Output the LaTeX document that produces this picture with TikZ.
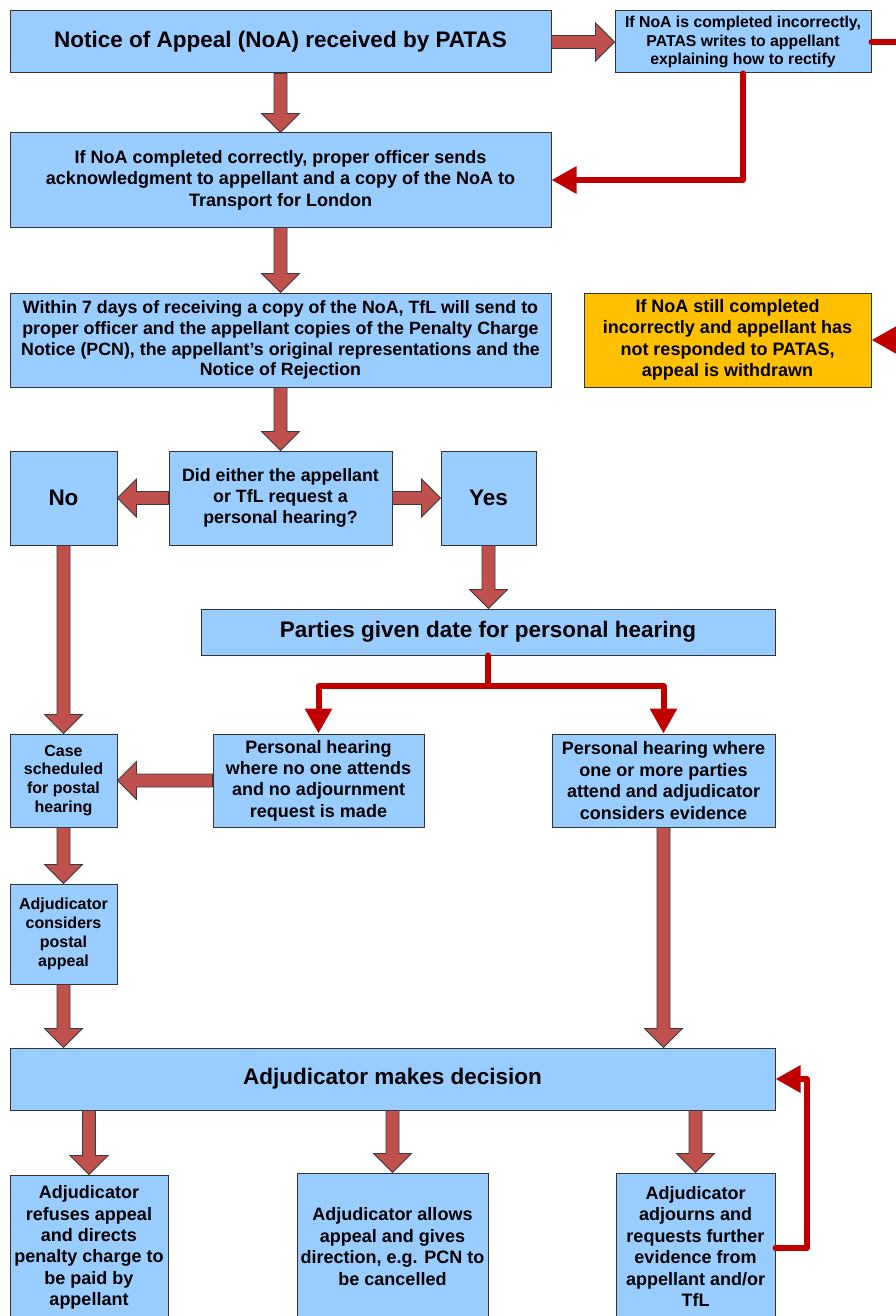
\documentclass[tikz,border=0pt]{standalone}
\usepackage{fontspec}
\setmainfont{Liberation Sans}
\usetikzlibrary{arrows.meta,calc}
\definecolor{boxfill}{HTML}{99CCFF}
\definecolor{boxline}{HTML}{333333}
\definecolor{brownarr}{HTML}{C0504D}
\definecolor{arrline}{HTML}{3A3A3A}
\definecolor{redline}{HTML}{C00000}
\definecolor{orangefill}{HTML}{FFC000}
\newcommand\blockarrow[2]{%
 \draw[blockarr] let \p1=(#1), \p2=(#2), \n1={atan2(\y2-\y1,\x2-\x1)}, \n2={veclen(\x2-\x1,\y2-\y1)-19pt} in
 (\p1) ++(\n1+90:6.5pt) -- ++(\n1:\n2) -- ++(\n1+90:12.5pt) -- (\p2) -- ++(\n1+225:26.87pt) -- ++(\n1+90:12.5pt) -- ++(\n1+180:\n2) -- cycle;}
\tikzset{
 box/.style={draw=boxline, fill=boxfill, line width=1pt, rectangle, inner sep=0pt, align=center, text=black},
 obox/.style={box, fill=orangefill},
 fbig/.style={font=\fontsize{22.5}{27}\selectfont\bfseries},
 fsmall/.style={font=\fontsize{15.8}{18.5}\selectfont\bfseries},
 fmid/.style={font=\fontsize{17.8}{20.8}\selectfont\bfseries},
 fmidb/.style={font=\fontsize{18}{21.4}\selectfont\bfseries},
 fnar/.style={font=\fontsize{16}{18.8}\selectfont\bfseries},
 blockarr/.style={fill=brownarr, draw=arrline, line width=0.8pt, line join=miter},
 redarr/.style={draw=redline, line width=6pt, line join=round, line cap=round, -{Triangle[length=25pt,width=26pt]}},
}
\begin{document}
\begin{tikzpicture}[x=1pt,y=-1pt]
\useasboundingbox (0,0) rectangle (896,1316);
\fill[white] (0,0) rectangle (896,1316);
\clip (0,0) rectangle (896,1316);
% nodes
\node[box, fbig, minimum width=541pt, minimum height=62pt] (n1) at (280.5,42) {Notice of Appeal (NoA) received by PATAS};
\node[box, fsmall, minimum width=256pt, minimum height=62pt] (n2) at (743,42) {If NoA is completed incorrectly,\\PATAS writes to appellant\\explaining how to rectify};
\node[box, fmidb, minimum width=541pt, minimum height=94pt] (n3) at (280.5,180) {If NoA completed correctly, proper officer sends\\acknowledgment to appellant and a copy of the NoA to\\Transport for London};
\node[box, fmid, minimum width=541pt, minimum height=94pt] (n4) at (280.5,340) {Within 7 days of receiving a copy of the NoA, TfL will send to\\proper officer and the appellant copies of the Penalty Charge\\Notice (PCN), the appellant’s original representations and the\\Notice of Rejection};
\node[obox, fmidb, minimum width=287pt, minimum height=94pt] (n5) at (727.5,340) {If NoA still completed\\incorrectly and appellant has\\not responded to PATAS,\\appeal is withdrawn};
\node[box, fbig, minimum width=107pt, minimum height=94pt] (no) at (63.5,498) {No};
\node[box, fmid, minimum width=223pt, minimum height=94pt] (dec) at (280.5,498) {Did either the appellant\\or TfL request a\\personal hearing?};
\node[box, fbig, minimum width=95pt, minimum height=94pt] (yes) at (488.5,498) {Yes};
\node[box, fbig, minimum width=574pt, minimum height=46pt] (parties) at (488,632) {Parties given date for personal hearing};
\node[box, fnar, minimum width=107pt, minimum height=93pt] (case) at (63.5,780.5) {Case\\scheduled\\for postal\\hearing};
\node[box, fmidb, minimum width=211pt, minimum height=93pt] (pno) at (318.5,780.5) {Personal hearing\\where no one attends\\and no adjournment\\request is made};
\node[box, fmidb, minimum width=223pt, minimum height=93pt] (pyes) at (663.5,780.5) {Personal hearing where\\one or more parties\\attend and adjudicator\\considers evidence};
\node[box, fnar, minimum width=107pt, minimum height=100pt] (post) at (63.5,934) {Adjudicator\\considers\\postal\\appeal};
\node[box, fbig, minimum width=765pt, minimum height=62pt] (decision) at (392.5,1079) {Adjudicator makes decision};
\node[box, fmidb, minimum width=158pt, minimum height=145pt] (refuse) at (89,1247.5) {Adjudicator\\refuses appeal\\and directs\\penalty charge to\\be paid by\\appellant};
\node[box, fmidb, minimum width=191pt, minimum height=147pt] (allow) at (392.5,1246.5) {Adjudicator allows\\appeal and gives\\direction, e.g. PCN to\\be cancelled};
\node[box, fmidb, minimum width=159pt, minimum height=147pt] (adjourn) at (695.5,1246.5) {Adjudicator\\adjourns and\\requests further\\evidence from\\appellant and/or\\TfL};
% block arrows
\blockarrow{n1.east |- n2.west}{n2.west}
\blockarrow{n1.south}{n3.north}
\blockarrow{n3.south}{n4.north}
\blockarrow{n4.south}{dec.north}
\blockarrow{dec.west}{no.east}
\blockarrow{dec.east}{yes.west}
\blockarrow{yes.south}{yes.south |- parties.north}
\blockarrow{no.south}{case.north}
\blockarrow{pno.west}{case.east}
\blockarrow{case.south}{post.north}
\blockarrow{post.south}{post.south |- decision.north}
\blockarrow{pyes.south}{pyes.south |- decision.north}
\blockarrow{refuse.north |- decision.south}{refuse.north}
\blockarrow{allow.north |- decision.south}{allow.north}
\blockarrow{adjourn.north |- decision.south}{adjourn.north}
% red connectors
\coordinate (rr) at (912,42);
\coordinate (split) at (488,686);
\coordinate (rb) at (807,1248);
\coordinate (rt) at (807,1079);
\draw[redarr] (n2.south) |- (n3.east);
\draw[redarr] (n2.east) -- (rr) |- (n5.east);
\draw[redarr] (parties.south) -- (split) -| (pno.north);
\draw[redarr] (split) -| (pyes.north);
\draw[redarr] (adjourn.east |- rb) -- (rb) -- (rt) -- (decision.east);
\end{tikzpicture}
\end{document}
